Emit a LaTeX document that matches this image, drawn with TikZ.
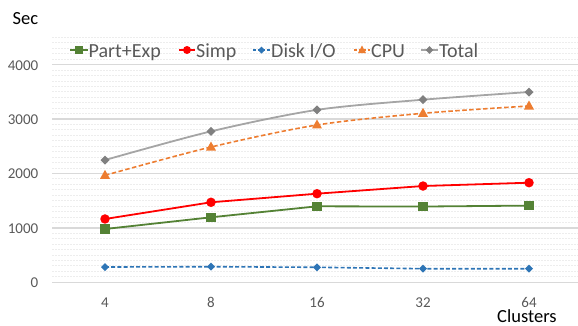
\documentclass[tikz,border=0pt]{standalone}
\usepackage{fontspec}
\setmainfont{Carlito}
\usetikzlibrary{calc}

\definecolor{cgreen}{HTML}{548235}
\definecolor{cred}{HTML}{FF0000}
\definecolor{cblue}{HTML}{2E75B6}
\definecolor{corange}{HTML}{ED7D31}
\definecolor{cgrayline}{HTML}{A5A5A5}
\definecolor{cgraymark}{HTML}{808080}
\definecolor{ctext}{HTML}{595959}
\definecolor{cmajor}{HTML}{D9D9D9}
\definecolor{cminor}{HTML}{EDEDED}

\tikzset{
  majorgrid/.style={cmajor, line width=1.5pt},
  minorgrid/.style={cminor, line width=1pt, dash pattern=on 1.6pt off 1.4pt},
  ticklabel/.style={text=ctext, inner sep=0pt, font=\fontsize{15}{18}\selectfont},
  legendtext/.style={text=ctext, inner sep=0pt, anchor=base west, font=\fontsize{20}{24}\selectfont},
  axistitle/.style={text=black, inner sep=0pt, anchor=base west, font=\fontsize{18.5}{22}\selectfont},
  partline/.style={cgreen, line width=1.8pt},
  simpline/.style={cred, line width=1.8pt},
  diskline/.style={cblue, line width=1.6pt, dash pattern=on 4pt off 2.2pt},
  cpuline/.style={corange, line width=1.6pt, dash pattern=on 4.5pt off 2.5pt},
  totalline/.style={cgrayline, line width=1.8pt},
  sqmark/.style={fill=cgreen, draw=none, minimum size=9.5pt, inner sep=0pt, shape=rectangle},
  circmark/.style={fill=cred, draw=none, minimum size=9.5pt, inner sep=0pt, shape=circle},
}

% small marker shapes drawn at a named point
\newcommand{\diamondmark}[3]{\fill[#1] ($(#2)+(0,#3)$) -- ($(#2)+(#3,0)$) -- ($(#2)+(0,-#3)$) -- ($(#2)+(-#3,0)$) -- cycle;}
\newcommand{\trimark}[2]{\fill[#1] ($(#2)+(0,-5.5)$) -- ($(#2)+(5,3.5)$) -- ($(#2)+(-5,3.5)$) -- cycle;}

\begin{document}
\begin{tikzpicture}[x=1pt, y=-1pt]
\useasboundingbox (0,0) rectangle (578,325);

% value -> vertical position: 0 at 282.3, 54.4 per 1000
\def\yv#1{282.3-0.0544*#1}

% minor grid every 100 up to 4500
\foreach \v in {100,200,...,4500}{
  \pgfmathtruncatemacro{\r}{mod(\v,1000)}
  \ifnum\r=0\else
    \draw[minorgrid] (52,{\yv{\v}}) -- (578,{\yv{\v}});
  \fi
}
% major grid and value labels
\foreach \v in {0,1000,2000,3000,4000}{
  \draw[majorgrid] (52,{\yv{\v}}) -- (578,{\yv{\v}});
  \node[ticklabel, anchor=east] (ylab\v) at (38.5,{\yv{\v}+0.5}) {\v};
}
% category labels
\foreach \c [count=\i from 0] in {4,8,16,32,64}{
  \node[ticklabel] (xlab\c) at ({105+106*\i},302.5) {\c};
}

\node[axistitle] (sec) at (12.5,24.5) {Sec};
\node[axistitle] (clusters) at (497,322.5) {Clusters};

% data points
\foreach \name/\vals in {
  part/{980,1195,1397,1393,1410},
  simp/{1164,1471,1629,1770,1831},
  disk/{281,287,276,250,250},
  cpu/{1967,2487,2892,3107,3241},
  total/{2248,2775,3170,3357,3498}}{
  \foreach \v [count=\i from 0] in \vals {
    \coordinate (\name\i) at ({105+106*\i},{\yv{\v}});
  }
}

% series
\draw[diskline] (disk0) -- (disk1) -- (disk2) -- (disk3) -- (disk4);
\foreach \i in {0,...,4}{ \diamondmark{cblue}{disk\i}{4} }

\draw[partline] (part0) -- (part1) -- (part2) -- (part3) -- (part4);
\foreach \i in {0,...,4}{ \node[sqmark] (pm\i) at (part\i) {}; }

\draw[simpline] (simp0) -- (simp1) -- (simp2) -- (simp3) -- (simp4);
\foreach \i in {0,...,4}{ \node[circmark] (sm\i) at (simp\i) {}; }

\draw[cpuline] plot[smooth, tension=0.5] coordinates {(cpu0) (cpu1) (cpu2) (cpu3) (cpu4)};
\foreach \i in {0,...,4}{ \trimark{corange}{cpu\i} }

\draw[totalline] plot[smooth, tension=0.5] coordinates {(total0) (total1) (total2) (total3) (total4)};
\foreach \i in {0,...,4}{ \diamondmark{cgraymark}{total\i}{4.5} }

% legend
\coordinate (lpa) at (70,50);  \coordinate (lpb) at (88,50);
\draw[partline] (lpa) -- (lpb);
\node[sqmark, minimum size=8pt] (lpm) at ($(lpa)!0.5!(lpb)$) {};
\node[legendtext] (lpt) at (88.5,57) {Part+Exp};

\coordinate (lsa) at (179,50); \coordinate (lsb) at (195,50);
\draw[simpline] (lsa) -- (lsb);
\node[circmark, minimum size=8pt] (lsm) at ($(lsa)!0.5!(lsb)$) {};
\node[legendtext] (lst) at (196,57) {Simp};

\coordinate (lda) at (253,50); \coordinate (ldb) at (270,50);
\draw[diskline, dash pattern=on 3pt off 1.5pt] (lda) -- (ldb);
\coordinate (ldm) at ($(lda)!0.5!(ldb)$);
\diamondmark{cblue}{ldm}{3.5}
\node[legendtext] (ldt) at (271,57) {Disk I/O};

\coordinate (lca) at (354,50); \coordinate (lcb) at (370,50);
\draw[cpuline, dash pattern=on 3pt off 1.5pt] (lca) -- (lcb);
\coordinate (lcm) at ($(lca)!0.5!(lcb)$);
\fill[corange] ($(lcm)+(0,-4.5)$) -- ($(lcm)+(4,3)$) -- ($(lcm)+(-4,3)$) -- cycle;
\node[legendtext] (lct) at (371,57) {CPU};

\coordinate (lta) at (421,50); \coordinate (ltb) at (438,50);
\draw[totalline] (lta) -- (ltb);
\coordinate (ltm) at ($(lta)!0.5!(ltb)$);
\diamondmark{cgraymark}{ltm}{3.8}
\node[legendtext] (ltt) at (439,57) {Total};
\end{tikzpicture}
\end{document}
